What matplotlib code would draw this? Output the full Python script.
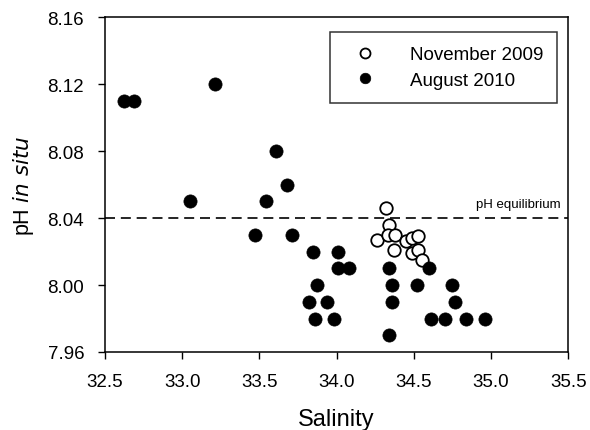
import matplotlib
matplotlib.use('Agg')
import matplotlib.pyplot as plt

plt.rcParams['font.family'] = ['Liberation Sans', 'DejaVu Sans']

# November 2009 (open circles)
nov_sal = [34.32, 34.34, 34.26, 34.33, 34.38, 34.37, 34.45, 34.49, 34.53, 34.49, 34.53, 34.55]
nov_ph = [8.046, 8.036, 8.027, 8.030, 8.030, 8.021, 8.026, 8.028, 8.029, 8.019, 8.021, 8.015]

# August 2010 (filled circles)
aug_sal = [32.62, 32.69, 33.21, 33.05, 33.54, 33.61, 33.68, 33.47, 33.71, 33.85,
           34.01, 34.01, 34.08, 33.87, 33.82, 33.94, 33.86, 33.98, 34.34, 34.60,
           34.36, 34.52, 34.75, 34.36, 34.77, 34.61, 34.70, 34.84, 34.96, 34.34]
aug_ph = [8.11, 8.11, 8.12, 8.05, 8.05, 8.08, 8.06, 8.03, 8.03, 8.02,
          8.02, 8.01, 8.01, 8.00, 7.99, 7.99, 7.98, 7.98, 8.01, 8.01,
          8.00, 8.00, 8.00, 7.99, 7.99, 7.98, 7.98, 7.98, 7.98, 7.97]

ph_equilibrium = 8.04
x_ticks = [32.5, 33.0, 33.5, 34.0, 34.5, 35.0, 35.5]
y_ticks = [7.96, 8.00, 8.04, 8.08, 8.12, 8.16]

fig = plt.figure(figsize=(5.9, 4.31), dpi=100)
ax = fig.add_axes([0.178, 0.181, 0.785, 0.777])

ax.axhline(ph_equilibrium, color='black', lw=1.2, ls=(0, (6, 3.5)), zorder=1)
ax.plot(nov_sal, nov_ph, 'o', ms=9, mfc='white', mec='black', mew=1.3,
        ls='none', label='November 2009', zorder=2)
ax.plot(aug_sal, aug_ph, 'o', ms=9.5, mfc='black', mec='black', mew=0.5,
        ls='none', label='August 2010', zorder=3)

ax.text(35.45, 8.045, 'pH equilibrium', fontsize=9.5, ha='right', va='bottom')

ax.set_xlim(32.5, 35.5)
ax.set_ylim(7.96, 8.16)
ax.set_xticks(x_ticks)
ax.set_yticks(y_ticks)
ax.set_xticklabels([f'{v:.1f}' for v in x_ticks])
ax.set_yticklabels([f'{v:.2f}' for v in y_ticks])
ax.tick_params(direction='out', length=5, width=1, labelsize=13.5, pad=10)
ax.tick_params(axis='x', pad=10)
for s in ax.spines.values():
    s.set_linewidth(1.1)

ax.set_xlabel('Salinity', fontsize=17, labelpad=13)
ax.set_ylabel(r'pH $\it{in\ situ}$', fontsize=15.5, labelpad=8)

leg = ax.legend(loc='upper right', bbox_to_anchor=(0.976, 0.955), fontsize=13.5,
                frameon=True, fancybox=False, edgecolor='black',
                borderpad=0.75, handlelength=2.2, handletextpad=1.3,
                labelspacing=0.45, borderaxespad=0, markerscale=0.8)
leg.get_frame().set_linewidth(1.1)

fig.savefig('out.png', dpi=100)
